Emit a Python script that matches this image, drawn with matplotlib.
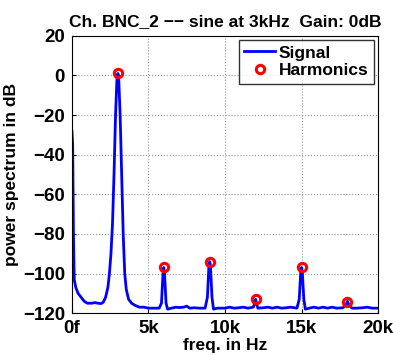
import matplotlib
matplotlib.use("Agg")
import matplotlib.pyplot as plt

# spectrum trace (Hz, dB)
freq = [0, 50, 100, 150, 250, 400, 600, 800, 1000, 1300, 1500, 1700, 1900, 2050,
        2200, 2350, 2450, 2550, 2650, 2750, 2850, 2950, 3000, 3050, 3150, 3250,
        3350, 3450, 3550, 3700, 3900, 4100, 4400, 4700, 5000, 5300, 5700, 5850,
        5950, 6000, 6050, 6150, 6250, 6500, 6800, 7000, 7300, 7500, 7700, 8000,
        8300, 8700, 8850, 8950, 9000, 9050, 9150, 9250, 9500, 9800, 10000, 10300,
        10600, 10900, 11200, 11500, 11850, 11950, 12000, 12050, 12150, 12500,
        12800, 13100, 13400, 13700, 14000, 14300, 14700, 14850, 14950, 15000,
        15050, 15150, 15250, 15500, 15800, 16100, 16400, 16700, 17000, 17300,
        17700, 17900, 18000, 18100, 18300, 18600, 19000, 19300, 19600, 20000]
power = [-28, -35, -80, -103, -107, -110, -112, -114, -115, -115, -114.7, -115,
         -115.2, -114.5, -112, -107, -100, -90, -75, -50, -20, 0, 1, 0, -20, -50,
         -80, -100, -108, -113, -115, -116, -117, -117, -117.5, -117.5, -117.5,
         -115, -100, -97, -100, -115, -118, -117.5, -117, -117.2, -117, -116.5,
         -117.5, -117.3, -117.5, -117.5, -112, -96, -94, -96, -112, -118, -117.5,
         -117.5, -117.5, -117, -117.5, -117.3, -117, -117.5, -117, -115, -113,
         -115, -117.5, -117.3, -117, -117.5, -117, -117.5, -117.3, -117, -117.5,
         -113, -99, -97, -99, -113, -118, -117.5, -117, -117.5, -117, -117.5,
         -117, -117.5, -117.3, -116, -114, -116, -117.5, -117.5, -117.3, -117,
         -117.5, -117.5]

harm_freq = [3000, 6000, 9000, 12000, 15000, 18000]
harm_db = [1.2, -96.8, -94.2, -113, -96.8, -114.2]

xticks = [0, 5000, 10000, 15000, 20000]
xlabels = ["0f", "5k", "10k", "15k", "20k"]
yticks = [-120, -100, -80, -60, -40, -20, 0, 20]

plt.rcParams['font.family'] = ['Liberation Sans', 'DejaVu Sans']
plt.rcParams['font.weight'] = 'bold'

fig = plt.figure(figsize=(3.93, 3.55), dpi=100)
ax = fig.add_axes([0.183, 0.118, 0.779, 0.781])

ax.plot(freq, power, color='blue', lw=2, label='Signal')
ax.plot(harm_freq, harm_db, 'o', mfc='none', mec='red', mew=2.2, ms=6,
        label='Harmonics')

ax.set_xlim(0, 20000)
ax.set_ylim(-120, 20)
ax.set_xticks(xticks)
ax.set_xticklabels(xlabels)
ax.set_yticks(yticks)
ax.tick_params(labelsize=13.5, direction='in', length=3, pad=5)
ax.grid(True, linestyle=':', color='#999999', lw=0.8)
for s in ax.spines.values():
    s.set_linewidth(0.8)

ax.set_title('Ch. BNC_2 \u2212\u2212 sine at 3kHz  Gain: 0dB', fontsize=12.5,
             fontweight='bold', pad=7)
ax.set_xlabel('freq. in Hz', fontsize=12.5, fontweight='bold', labelpad=1)
ax.set_ylabel('power spectrum in dB', fontsize=12.5, fontweight='bold', labelpad=3)

leg = ax.legend(loc='upper right', fontsize=12.5, frameon=True, fancybox=False,
                edgecolor='black', borderpad=0.3, handlelength=1.8,
                handletextpad=0.2, labelspacing=0.15, borderaxespad=0.25)
leg.get_frame().set_linewidth(1.0)
for t in leg.get_texts():
    t.set_fontweight('bold')

fig.savefig('out.png', dpi=100)
